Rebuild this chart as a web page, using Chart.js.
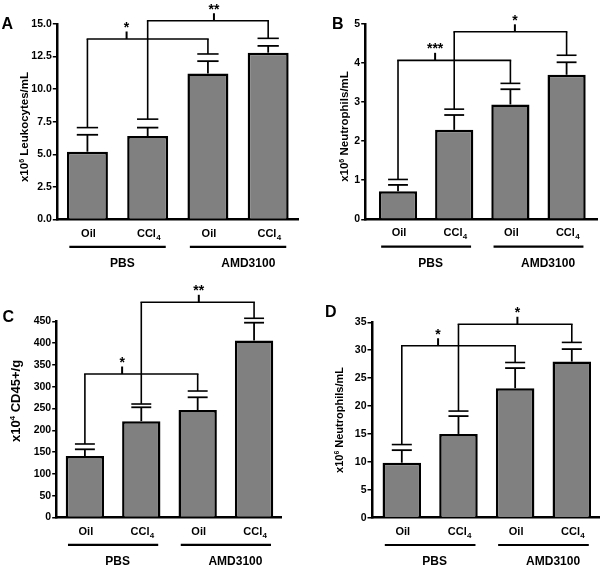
<!DOCTYPE html>
<html><head><meta charset="utf-8">
<script src="https://cdn.jsdelivr.net/npm/chart.js@4.4.1/dist/chart.umd.min.js"></script>
<style>
html,body{margin:0;padding:0;background:#fff;}
#wrap{position:relative;width:600px;height:565px;overflow:hidden;background:#fff;}
#wrap canvas{position:absolute;left:0;top:0;}
</style>
</head><body>
<div id="wrap">
<canvas id="cA" width="600" height="565"></canvas>
<canvas id="cB" width="600" height="565"></canvas>
<canvas id="cC" width="600" height="565"></canvas>
<canvas id="cD" width="600" height="565"></canvas>
</div>
<script>
// ---------- data ----------
const categories = ["Oil", "CCl4", "Oil", "CCl4"];
const groups = ["PBS", "AMD3100"];
const bracketPairs = [[0, 2], [1, 3]];

// Panel A: x10^6 Leukocytes/mL
const meanA = [5.2, 6.4, 11.2, 12.8];
const semA = [1.3, 0.65, 0.95, 0.52];
const footA = [7.05, 7.7, 12.7, 13.9];
const levelA = [13.85, 15.25];
const starsA = ["*", "**"];
const tickValsA = [0, 2.5, 5, 7.5, 10, 12.5, 15];
const tickLabelsA = ["0.0", "2.5", "5.0", "7.5", "10.0", "12.5", "15.0"];

// Panel B: x10^6 Neutrophils/mL
const meanB = [0.72, 2.29, 2.94, 3.70];
const semB = [0.16, 0.38, 0.39, 0.32];
const footB = [1.02, 2.82, 3.48, 4.2];
const levelB = [4.07, 4.8];
const starsB = ["***", "*"];
const tickValsB = [0, 1, 2, 3, 4, 5];
const tickLabelsB = ["0", "1", "2", "3", "4", "5"];

// Panel C: x10^4 CD45+/g
const meanC = [141, 221, 246.6, 406];
const semC = [15.4, 31.8, 29.1, 40.8];
const footC = [168.6, 260.3, 290.1, 456.9];
const levelC = [329.1, 493.6];
const starsC = ["*", "**"];
const tickValsC = [0, 50, 100, 150, 200, 250, 300, 350, 400, 450];
const tickLabelsC = ["0", "50", "100", "150", "200", "250", "300", "350", "400", "450"];

// Panel D: x10^6 Neutrophils/mL
const meanD = [9.85, 15.0, 23.2, 27.96];
const semD = [2.25, 3.2, 3.6, 2.24];
const footD = [13.1, 19.1, 27.8, 31.4];
const levelD = [30.8, 34.65];
const starsD = ["*", "*"];
const tickValsD = [0, 5, 10, 15, 20, 25, 30, 35];
const tickLabelsD = ["0", "5", "10", "15", "20", "25", "30", "35"];

// ---------- layout / style ----------
const FONT = "'Liberation Sans', Arial, Helvetica, sans-serif";
const W = 600, H = 565, YW = 40;

function line(ctx, x1, y1, x2, y2) {
  ctx.beginPath(); ctx.moveTo(x1, y1); ctx.lineTo(x2, y2); ctx.stroke();
}

function makePanel(id, D, P) {
  const overlay = {
    id: 'overlay_' + id,
    afterDraw(chart) {
      const ctx = chart.ctx;
      const x = chart.scales.x, y = chart.scales.y;
      const meta = chart.getDatasetMeta(0);
      const bw = meta.data[0].width;
      const cw = bw * 0.52;
      const sp = x.getPixelForValue(1) - x.getPixelForValue(0);
      ctx.save();
      ctx.strokeStyle = '#000'; ctx.fillStyle = '#000'; ctx.lineCap = 'butt';
      // error bars
      ctx.lineWidth = 1.8;
      D.mean.forEach((m, i) => {
        const cx = x.getPixelForValue(i);
        const t = y.getPixelForValue(m), c = y.getPixelForValue(m + D.sem[i]);
        line(ctx, cx, t, cx, c);
        line(ctx, cx - cw / 2, c, cx + cw / 2, c);
      });
      // brackets
      bracketPairs.forEach((pr, k) => {
        const yl = y.getPixelForValue(D.level[k]);
        ctx.lineWidth = 1.6;
        pr.forEach(b => {
          const bx = x.getPixelForValue(b);
          const fy = y.getPixelForValue(D.foot[b]);
          line(ctx, bx - cw / 2, fy, bx + cw / 2, fy);
          line(ctx, bx, fy, bx, yl);
        });
        const xi = x.getPixelForValue(pr[0]), xj = x.getPixelForValue(pr[1]);
        line(ctx, xi - 0.8, yl, xj + 0.8, yl);
        const tx = xi + P.tickFrac[k] * (xj - xi);
        ctx.lineWidth = 2;
        line(ctx, tx, yl, tx, yl - 7.5);
        ctx.font = 'bold 14px ' + FONT;
        ctx.textAlign = 'center'; ctx.textBaseline = 'alphabetic';
        ctx.fillText(D.stars[k], tx, yl - 7.5 + 0.5);
      });
      // category labels
      const base = y.getPixelForValue(0);
      ctx.textBaseline = 'alphabetic';
      categories.forEach((c, i) => {
        const cx = x.getPixelForValue(i);
        const m = c.match(/^(.*?)(\d+)$/);
        if (m) {
          ctx.font = 'bold 11px ' + FONT;
          const w1 = ctx.measureText(m[1]).width;
          ctx.font = 'bold 8px ' + FONT;
          const w2 = ctx.measureText(m[2]).width;
          const x0 = cx - (w1 + w2) / 2 + 1;
          ctx.textAlign = 'left';
          ctx.font = 'bold 11px ' + FONT;
          ctx.fillText(m[1], x0, base + 17);
          ctx.font = 'bold 8px ' + FONT;
          ctx.fillText(m[2], x0 + w1 + 0.3, base + 20);
        } else {
          ctx.font = 'bold 11px ' + FONT;
          ctx.textAlign = 'center';
          ctx.fillText(c, cx + 1, base + 17);
        }
      });
      // group lines and labels
      const gOff = [0.08, 0.17];
      groups.forEach((g, k) => {
        const a = x.getPixelForValue(2 * k), b = x.getPixelForValue(2 * k + 1);
        ctx.lineWidth = 2.2;
        line(ctx, a - 0.3 * sp, base + 27.3, b + 0.3 * sp, base + 27.3);
        ctx.font = 'bold 12px ' + FONT;
        ctx.textAlign = 'center';
        ctx.fillText(g, (a + b) / 2 + gOff[k] * sp, base + 47.3);
      });
      // y title (rotated) with superscript
      ctx.save();
      ctx.translate(P.titleX, P.titleY);
      ctx.rotate(-Math.PI / 2);
      const fs = P.titleSize;
      const parts = [[D.title[0], fs, 0], [D.title[1], fs * 0.62, -fs * 0.38], [D.title[2], fs, 0]];
      let tw = 0;
      parts.forEach(p => { ctx.font = 'bold ' + p[1] + 'px ' + FONT; p.push(ctx.measureText(p[0]).width); tw += p[3]; });
      let px = -tw / 2;
      ctx.textAlign = 'left'; ctx.textBaseline = 'middle';
      parts.forEach(p => {
        ctx.font = 'bold ' + p[1] + 'px ' + FONT;
        ctx.fillText(p[0], px, p[2] + (p[1] < fs ? 1 : 0));
        px += p[3];
      });
      ctx.restore();
      // panel letter
      ctx.font = 'bold 16px ' + FONT;
      ctx.textAlign = 'left'; ctx.textBaseline = 'alphabetic';
      ctx.fillText(P.letter, P.letterX, P.letterY);
      ctx.restore();
    }
  };

  new Chart(document.getElementById(id), {
    type: 'bar',
    data: {
      datasets: [{
        data: D.mean.map((v, i) => ({ x: i, y: v })),
        backgroundColor: '#808080',
        borderColor: '#000',
        borderWidth: 2.5,
        borderSkipped: 'start',
        barPercentage: 0.68,
        categoryPercentage: 1
      }]
    },
    options: {
      responsive: false,
      animation: false,
      events: [],
      layout: { padding: { left: P.L - YW, right: W - P.R, top: P.T, bottom: H - P.B } },
      plugins: { legend: { display: false }, tooltip: { enabled: false } },
      scales: {
        x: {
          type: 'linear', min: P.xmin, max: P.xmax, offset: false,
          ticks: { display: false },
          grid: { display: false, offset: false },
          border: { display: true, color: '#000', width: 2.5 },
          afterFit(s) { s.height = 0; }
        },
        y: {
          type: 'linear', min: 0, max: D.tickVals[D.tickVals.length - 1],
          afterBuildTicks(s) { s.ticks = D.tickVals.map(v => ({ value: v })); },
          ticks: {
            color: '#000', padding: 1,
            font: { family: FONT, size: 10.5, weight: 'bold' },
            callback: (v, i) => D.tickLabels[i]
          },
          grid: { display: true, drawOnChartArea: false, drawTicks: true, tickLength: 4.5, color: '#000', lineWidth: 1.5 },
          border: { display: true, color: '#000', width: 2.5 },
          afterFit(s) { s.width = YW; }
        }
      }
    },
    plugins: [overlay]
  });
}

makePanel('cA',
  { mean: meanA, sem: semA, foot: footA, level: levelA, stars: starsA, tickVals: tickValsA, tickLabels: tickLabelsA, title: ["x10", "6", " Leukocytes/mL"] },
  { L: 57.3, R: 298.3, T: 24, B: 219.5, xmin: -0.5, xmax: 3.5, tickFrac: [0.325, 0.55], titleX: 25, titleY: 127, titleSize: 11.5, letter: "A", letterX: 1.5, letterY: 28.5 });
makePanel('cB',
  { mean: meanB, sem: semB, foot: footB, level: levelB, stars: starsB, tickVals: tickValsB, tickLabels: tickLabelsB, title: ["x10", "6", " Neutrophils/mL"] },
  { L: 365.7, R: 597.5, T: 24, B: 219.3, xmin: -0.575, xmax: 3.55, tickFrac: [0.33, 0.54], titleX: 345, titleY: 126.5, titleSize: 11.5, letter: "B", letterX: 332, letterY: 29 });
makePanel('cC',
  { mean: meanC, sem: semC, foot: footC, level: levelC, stars: starsC, tickVals: tickValsC, tickLabels: tickLabelsC, title: ["x10", "4", " CD45+/g"] },
  { L: 56.7, R: 281.7, T: 321.3, B: 517.5, xmin: -0.5, xmax: 3.49, tickFrac: [0.33, 0.51], titleX: 16.5, titleY: 401, titleSize: 13, letter: "C", letterX: 2.5, letterY: 322 });
makePanel('cD',
  { mean: meanD, sem: semD, foot: footD, level: levelD, stars: starsD, tickVals: tickValsD, tickLabels: tickLabelsD, title: ["x10", "6", " Neutrophils/mL"] },
  { L: 372, R: 599, T: 322.3, B: 517.7, xmin: -0.526, xmax: 3.48, tickFrac: [0.32, 0.52], titleX: 340, titleY: 420, titleSize: 11, letter: "D", letterX: 325, letterY: 316.5 });
</script>
</body></html>
